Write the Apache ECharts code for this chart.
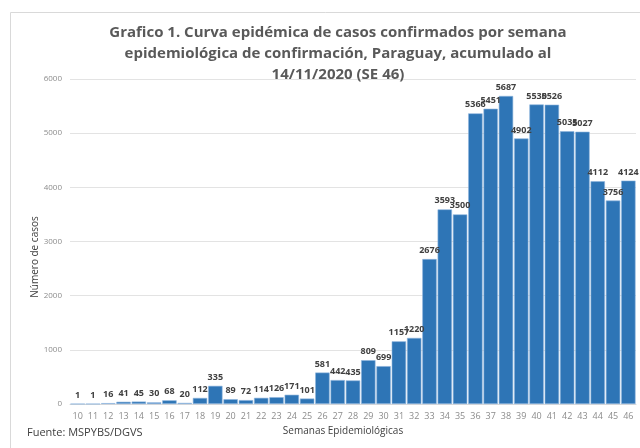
<!DOCTYPE html>
<html>
<head>
<meta charset="utf-8">
<script src="https://cdn.jsdelivr.net/npm/echarts@6/dist/echarts.min.js"></script>
<style>
  html, body { margin: 0; padding: 0; background: #fff; }
  #chart { width: 640px; height: 448px; }
</style>
</head>
<body>
<div id="chart"></div>
<script>
// semanas epidemiologicas 10..46
const semanas = ['10','11','12','13','14','15','16','17','18','19','20','21','22','23','24','25','26','27','28',
  '29','30','31','32','33','34','35','36','37','38','39','40','41','42','43','44','45','46']
const casos = [1, 1, 16, 41, 45, 30, 68, 20, 112, 335, 89, 72, 114, 126, 171, 101, 581, 442, 435,
  809, 699, 1157, 1220, 2676, 3593, 3500, 5366, 5451, 5687, 4902, 5530, 5526, 5035, 5027, 4112, 3756, 4124]
const yTicks = [0, 1000, 2000, 3000, 4000, 5000, 6000]

const titulo = 'Grafico 1. Curva epidémica de casos confirmados por semana\nepidemiológica de confirmación, Paraguay, acumulado al\n14/11/2020 (SE 46)'

const chart = echarts.init(document.getElementById('chart'))
chart.setOption({
  animation: false,
  textStyle: { fontFamily: 'Open Sans' },
  title: {
    text: titulo,
    left: 333,
    top: 17,
    textAlign: 'center',
    textStyle: {
      fontFamily: 'Open Sans',
      fontSize: 15,
      fontWeight: 'bold',
      color: '#595959',
      lineHeight: 21
    }
  },
  grid: { left: 70, right: 4, top: 79, bottom: 44 },
  xAxis: {
    type: 'category',
    data: semanas,
    axisLine: { lineStyle: { color: '#d9d9d9' } },
    axisTick: { show: false },
    axisLabel: { color: '#8c8c8c', fontSize: 9, margin: 8, interval: 0 }
  },
  yAxis: {
    type: 'value',
    min: yTicks[0],
    max: yTicks[yTicks.length - 1],
    interval: 1000,
    axisLine: { show: false },
    axisTick: { show: false },
    axisLabel: { color: '#8c8c8c', fontSize: 8, margin: 8, formatter: v => String(v) },
    splitLine: { lineStyle: { color: '#e3e3e3' } }
  },
  series: [{
    type: 'bar',
    data: casos,
    barCategoryGap: '6%',
    itemStyle: { color: '#2e75b6', borderColor: '#8fb6dd', borderWidth: 0.6 },
    label: {
      show: true,
      position: 'top',
      distance: 4,
      color: '#404040',
      fontSize: 9,
      fontWeight: 'bold'
    }
  }],
  graphic: [
    {
      type: 'rect',
      shape: { x: 10.5, y: 12.5, width: 700, height: 500 },
      style: { fill: null, stroke: '#d9d9d9', lineWidth: 1 },
      z: -10
    },
    {
      type: 'text',
      x: 35,
      y: 257,
      rotation: Math.PI / 2,
      style: {
        text: 'Número de casos',
        fill: '#404040',
        font: '10px "Open Sans"',
        textAlign: 'center',
        textVerticalAlign: 'middle'
      }
    },
    {
      type: 'text',
      x: 343,
      y: 431,
      style: {
        text: 'Semanas Epidemiológicas',
        fill: '#404040',
        font: '10px "Open Sans"',
        textAlign: 'center',
        textVerticalAlign: 'middle'
      }
    },
    {
      type: 'text',
      x: 27,
      y: 433,
      style: {
        text: 'Fuente: MSPYBS/DGVS',
        fill: '#404040',
        font: '11px "Open Sans"',
        textAlign: 'left',
        textVerticalAlign: 'middle'
      }
    }
  ]
})
</script>
</body>
</html>
